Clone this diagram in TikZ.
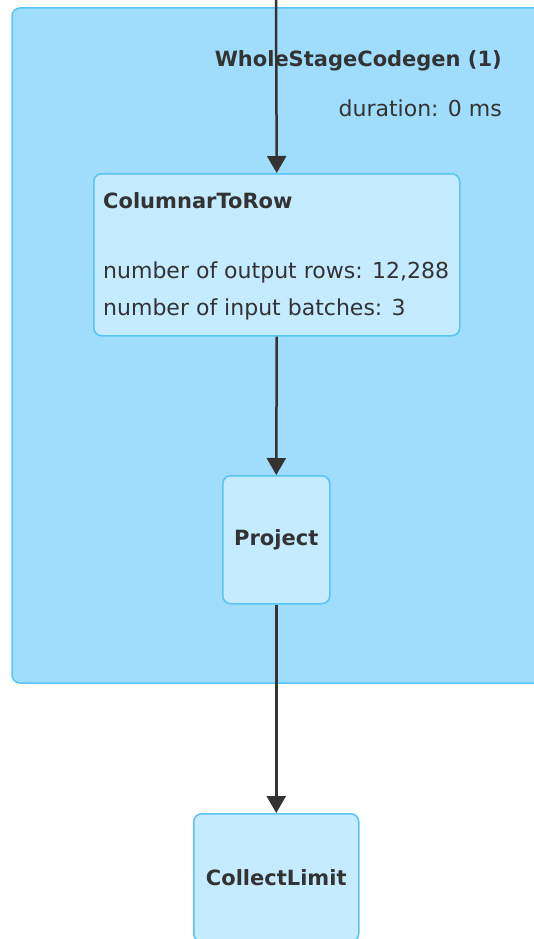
\documentclass[tikz,border=0pt]{standalone}
\usepackage{fontspec}
\setmainfont{DejaVu Sans}
\usetikzlibrary{arrows.meta}
\definecolor{clusterfill}{RGB}{160,221,252}
\definecolor{clusterline}{RGB}{88,196,246}
\definecolor{opfill}{RGB}{196,235,255}
\definecolor{inktext}{RGB}{51,51,51}
\newcommand{\plainsize}{\fontsize{22}{26}\selectfont}
\newcommand{\boldsize}{\fontsize{21}{25}\selectfont\bfseries}
\tikzset{
  opbox/.style={draw=clusterline, fill=opfill, line width=1.5pt, rounded corners=8pt,
    inner sep=0pt, anchor=north west, text=inktext, font=\boldsize},
  flow/.style={draw=inktext, line width=2.5pt, -{Triangle[width=19pt,length=17pt]}},
  lbl/.style={inner sep=0pt, text=inktext, font=\plainsize},
  boldlbl/.style={lbl, font=\boldsize},
}
\begin{document}
\begin{tikzpicture}[x=1pt,y=1pt]
  \useasboundingbox (0,0) rectangle (534,-939);
  \clip (0,0) rectangle (534,-939);
  % stage cluster
  \draw [draw=clusterline, fill=clusterfill, line width=1.5pt, rounded corners=8pt] (12,-8) rectangle (570,-683);
  \node [boldlbl, anchor=east] (stage) at (502,-61) {WholeStageCodegen (1)};
  \node [lbl, anchor=east] (duration) at (502,-108) {duration: 0 ms};
  % operators
  \coordinate (src) at (276,0);
  \node [opbox, minimum width=366pt, minimum height=162pt] (c2r) at (93,-173) {};
  \node [boldlbl, anchor=west] (c2rname) at (103,-201) {ColumnarToRow};
  \node [lbl, anchor=west] (rows) at (103,-272) {number of output rows: 12,288};
  \node [lbl, anchor=west] (batches) at (103,-309) {number of input batches: 3};
  \node [opbox, minimum width=107pt, minimum height=128pt] (project) at (222,-475) {Project};
  \node [opbox, minimum width=165pt, minimum height=128pt] (limit) at (193,-813) {CollectLimit};
  % edges
  \draw [flow] (src) -- (c2r.north);
  \draw [flow] (c2r.south) -- (project.north);
  \draw [flow] (project.south) -- (limit.north);
\end{tikzpicture}
\end{document}
